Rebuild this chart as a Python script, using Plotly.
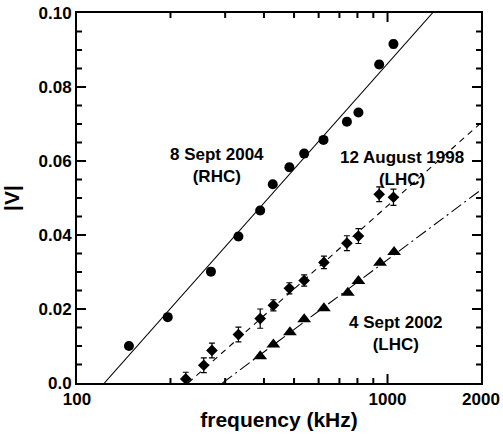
import math
import plotly.graph_objects as go

# --- data ---
rhc_freq = [147, 196, 270, 331, 389, 427, 483, 539, 622, 740, 806, 940, 1045]
rhc_v = [0.0100, 0.0178, 0.0301, 0.0396, 0.0466, 0.0537, 0.0583, 0.0620, 0.0657, 0.0706, 0.0731, 0.0861, 0.0916]
rhc_err = [0.0007, 0.0008, 0.0009, 0.0009, 0.0009, 0.0008, 0.0009, 0.0008, 0.0008, 0.0009, 0.0008, 0.0009, 0.0010]

aug_freq = [224, 256, 272, 331, 389, 429, 483, 539, 624, 740, 806, 940, 1045]
aug_v = [0.0011, 0.0048, 0.0088, 0.0131, 0.0174, 0.0210, 0.0256, 0.0277, 0.0326, 0.0378, 0.0397, 0.0510, 0.0502]
aug_err = [0.0018, 0.0020, 0.0020, 0.0020, 0.0026, 0.0015, 0.0015, 0.0015, 0.0017, 0.0020, 0.0020, 0.0020, 0.0022]

sep02_freq = [389, 429, 485, 539, 624, 745, 806, 946, 1050]
sep02_v = [0.0072, 0.0104, 0.0137, 0.0172, 0.0202, 0.0244, 0.0276, 0.0325, 0.0354]

# fit line endpoints
fit_rhc_freq = [122.5, 1396]
fit_rhc_v = [0.0, 0.1]
fit_aug_freq = [228, 2000]
fit_aug_v = [0.0, 0.0703]
fit_sep02_freq = [294, 2000]
fit_sep02_v = [0.0, 0.0522]

ytick_vals = [0.0, 0.02, 0.04, 0.06, 0.08, 0.10]
ytick_text = ["0.0", "0.02", "0.04", "0.06", "0.08", "0.10"]
yminor_vals = [0.005, 0.01, 0.015, 0.025, 0.03, 0.035, 0.045, 0.05, 0.055,
               0.065, 0.07, 0.075, 0.085, 0.09, 0.095]
xtick_vals = [100, 1000, 2000]
xtick_text = ["100", "1000", "2000"]
xminor_vals = [200, 300, 400, 500, 600, 700, 800, 900]

label_freq = [282, 1114, 1065]
label_v = [0.0588, 0.0580, 0.0135]
label_text = ["8 Sept 2004<br>(RHC)", "12 August 1998<br>(LHC)", "4 Sept 2002<br>(LHC)"]

FONT = "Liberation Sans, Arial, Helvetica, sans-serif"
W, H = 503, 436
M = dict(l=77, r=22, t=13, b=53)
XRANGE = [2, math.log10(2000)]
YRANGE = [0, 0.1]
PW = W - M["l"] - M["r"]
PH = H - M["t"] - M["b"]

fig = go.Figure()
fig.add_trace(go.Scatter(x=fit_rhc_freq, y=fit_rhc_v, mode="lines",
                         line=dict(color="black", width=1.1), hoverinfo="skip"))
fig.add_trace(go.Scatter(x=fit_aug_freq, y=fit_aug_v, mode="lines",
                         line=dict(color="black", width=1.1, dash="6px,5px"), hoverinfo="skip"))
fig.add_trace(go.Scatter(x=fit_sep02_freq, y=fit_sep02_v, mode="lines",
                         line=dict(color="black", width=1.1, dash="12px,4px,2px,4px"), hoverinfo="skip"))

fig.add_trace(go.Scatter(x=rhc_freq, y=rhc_v, mode="markers",
                         marker=dict(symbol="circle", size=10, color="black"),
                         error_y=dict(type="data", array=rhc_err, color="black", thickness=1.2, width=3)))
fig.add_trace(go.Scatter(x=aug_freq, y=aug_v, mode="markers",
                         marker=dict(symbol="diamond", size=9, color="black"),
                         error_y=dict(type="data", array=aug_err, color="black", thickness=1.2, width=3)))
fig.add_trace(go.Scatter(x=sep02_freq, y=sep02_v, mode="markers",
                         marker=dict(symbol="triangle-up", size=12, color="black")))

for x, y, t in zip(label_freq, label_v, label_text):
    fig.add_annotation(x=math.log10(x), y=y, xref="x", yref="y", text=t, showarrow=False,
                       font=dict(family=FONT, size=17, color="black", weight="bold"),
                       align="center")

# inside tick marks on all four sides, built from the tick arrays in data units
tx, ty = [], []
for vals, length in [(xtick_vals[1:-1], 9), (xminor_vals, 5)]:
    dy = length / PH * (YRANGE[1] - YRANGE[0])
    for v in vals:
        tx += [v, v, None, v, v, None]
        ty += [YRANGE[0], YRANGE[0] + dy, None, YRANGE[1] - dy, YRANGE[1], None]
for vals, length in [(ytick_vals[1:-1], 9), (yminor_vals, 5)]:
    dlog = length / PW * (XRANGE[1] - XRANGE[0])
    for v in vals:
        tx += [10 ** XRANGE[0], 10 ** (XRANGE[0] + dlog), None,
               10 ** (XRANGE[1] - dlog), 10 ** XRANGE[1], None]
        ty += [v, v, None, v, v, None]
fig.add_trace(go.Scatter(x=tx, y=ty, mode="lines", line=dict(color="black", width=2),
                         hoverinfo="skip", connectgaps=False))

fig.update_layout(
    width=W, height=H,
    margin=dict(**M, autoexpand=False),
    paper_bgcolor="white", plot_bgcolor="white",
    showlegend=False,
    font=dict(family=FONT, color="black"),
    xaxis=dict(
        type="log", range=XRANGE, automargin=False,
        tickmode="array", tickvals=xtick_vals, ticktext=xtick_text, ticks="",
        showline=True, linewidth=2, linecolor="black", mirror=True,
        showgrid=False, zeroline=False,
        tickfont=dict(family=FONT, size=17, color="black", weight="bold"),
        title=dict(text="frequency (kHz)", font=dict(family=FONT, size=21, color="black", weight="bold"), standoff=4),
    ),
    yaxis=dict(
        range=YRANGE, automargin=False,
        tickmode="array", tickvals=ytick_vals, ticktext=ytick_text, ticks="",
        showline=True, linewidth=2, linecolor="black", mirror=True,
        showgrid=False, zeroline=False,
        tickfont=dict(family=FONT, size=17, color="black", weight="bold"),
        title=dict(text="|V|", font=dict(family=FONT, size=21, color="black", weight="bold"), standoff=14),
    ),
)

fig.write_html("out.html")
